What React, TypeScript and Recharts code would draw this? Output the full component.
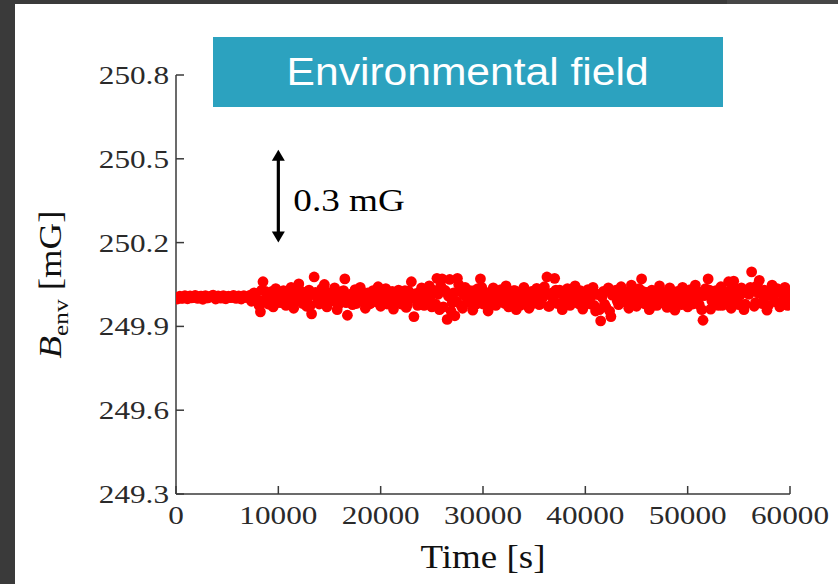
import React from 'react';
import { ScatterChart, Scatter, XAxis, YAxis, ReferenceLine } from 'recharts';

const TIMES = [
  0, 250, 500, 750, 1000, 1250, 1500, 1750, 2000, 2250, 2500, 2750, 3000, 3250, 3500, 3750, 4000, 4250, 4500, 4750,
  5000, 5250, 5500, 5750, 6000, 6250, 6500, 6750, 7000, 7250, 7500, 7750, 8000, 8250, 8500, 8750, 9000, 9250, 9500, 9750,
  10000, 10250, 10500, 10750, 11000, 11250, 11500, 11750, 12000, 12250, 12500, 12750, 13000, 13250, 13500, 13750, 14000, 14250, 14500, 14750,
  15000, 15250, 15500, 15750, 16000, 16250, 16500, 16750, 17000, 17250, 17500, 17750, 18000, 18250, 18500, 18750, 19000, 19250, 19500, 19750,
  20000, 20250, 20500, 20750, 21000, 21250, 21500, 21750, 22000, 22250, 22500, 22750, 23000, 23250, 23500, 23750, 24000, 24250, 24500, 24750,
  25000, 25250, 25500, 25750, 26000, 26250, 26500, 26750, 27000, 27250, 27500, 27750, 28000, 28250, 28500, 28750, 29000, 29250, 29500, 29750,
  30000, 30250, 30500, 30750, 31000, 31250, 31500, 31750, 32000, 32250, 32500, 32750, 33000, 33250, 33500, 33750, 34000, 34250, 34500, 34750,
  35000, 35250, 35500, 35750, 36000, 36250, 36500, 36750, 37000, 37250, 37500, 37750, 38000, 38250, 38500, 38750, 39000, 39250, 39500, 39750,
  40000, 40250, 40500, 40750, 41000, 41250, 41500, 41750, 42000, 42250, 42500, 42750, 43000, 43250, 43500, 43750, 44000, 44250, 44500, 44750,
  45000, 45250, 45500, 45750, 46000, 46250, 46500, 46750, 47000, 47250, 47500, 47750, 48000, 48250, 48500, 48750, 49000, 49250, 49500, 49750,
  50000, 50250, 50500, 50750, 51000, 51250, 51500, 51750, 52000, 52250, 52500, 52750, 53000, 53250, 53500, 53750, 54000, 54250, 54500, 54750,
  55000, 55250, 55500, 55750, 56000, 56250, 56500, 56750, 57000, 57250, 57500, 57750, 58000, 58250, 58500, 58750, 59000, 59250, 59500, 59750,
  60000,
];

const B_ENV = [
  250.002, 250.004, 250.001, 250.005, 250.003, 250.006, 250.002, 250.007, 250.004, 250.003, 250.008, 250.005, 250.002, 250.006, 250.009, 250.004, 250.003, 250.007, 250.005, 250.001,
  250.006, 250.004, 250.008, 250.003, 250.005, 250.002, 250.007, 250.004, 250.006, 250.012, 249.994, 250.018, 249.986, 249.952, 250.060, 250.025, 249.980, 250.010, 249.970, 250.035,
  250.005, 249.985, 250.028, 249.975, 250.015, 250.040, 249.965, 250.008, 250.052, 249.990, 250.022, 249.972, 250.030, 249.945, 250.077, 250.012, 249.980, 250.035, 250.050, 249.970,
  250.018, 249.992, 250.038, 249.960, 250.010, 250.025, 250.070, 249.940, 250.015, 249.978, 250.032, 249.988, 250.040, 250.005, 249.965, 250.020, 249.982, 250.028, 249.995, 250.042,
  249.972, 250.012, 250.035, 249.985, 250.022, 249.962, 250.008, 250.030, 249.980, 250.015, 249.968, 250.026, 250.060, 249.935, 250.018, 249.990, 250.038, 249.975, 250.010, 250.045,
  249.970, 250.020, 250.072, 249.960, 250.070, 250.030, 249.925, 250.068, 249.985, 249.938, 250.072, 250.025, 249.965, 250.040, 249.992, 250.028, 249.958, 250.015, 250.035, 250.070,
  249.980, 250.022, 249.955, 250.010, 250.038, 249.975, 250.018, 250.032, 249.988, 250.045, 249.970, 250.005, 250.028, 249.960, 250.020, 249.985, 250.040, 250.012, 249.965, 250.025,
  249.992, 250.036, 249.978, 250.015, 250.042, 250.077, 249.972, 250.020, 250.072, 249.982, 250.030, 249.960, 250.010, 250.035, 249.975, 250.018, 250.045, 249.988, 250.028, 249.962,
  250.008, 250.032, 249.980, 250.040, 249.955, 250.015, 249.920, 250.025, 249.970, 250.038, 249.935, 250.012, 250.030, 249.978, 250.042, 249.990, 250.020, 249.965, 250.048, 250.005,
  249.972, 250.035, 250.070, 249.982, 250.022, 249.960, 250.030, 250.010, 249.975, 250.045, 249.985, 250.018, 249.968, 250.038, 250.008, 249.958, 250.025, 249.988, 250.040, 250.015,
  249.970, 250.032, 249.980, 250.048, 249.992, 250.022, 249.922, 250.035, 250.070, 249.962, 250.012, 250.028, 249.975, 250.042, 249.985, 250.018, 250.060, 249.965, 250.062, 250.010,
  249.978, 250.038, 249.960, 250.025, 250.015, 250.095, 249.972, 250.045, 250.065, 249.982, 250.030, 249.958, 250.020, 250.048, 249.990, 250.035, 249.970, 250.022, 250.040, 249.975,
  250.005,
];

const TIMES_MID = [
  125, 375, 625, 875, 1125, 1375, 1625, 1875, 2125, 2375, 2625, 2875, 3125, 3375, 3625, 3875, 4125, 4375, 4625, 4875,
  5125, 5375, 5625, 5875, 6125, 6375, 6625, 6875, 7125, 7375, 7625, 7875, 8125, 8375, 8625, 8875, 9125, 9375, 9625, 9875,
  10125, 10375, 10625, 10875, 11125, 11375, 11625, 11875, 12125, 12375, 12625, 12875, 13125, 13375, 13625, 13875, 14125, 14375, 14625, 14875,
  15125, 15375, 15625, 15875, 16125, 16375, 16625, 16875, 17125, 17375, 17625, 17875, 18125, 18375, 18625, 18875, 19125, 19375, 19625, 19875,
  20125, 20375, 20625, 20875, 21125, 21375, 21625, 21875, 22125, 22375, 22625, 22875, 23125, 23375, 23625, 23875, 24125, 24375, 24625, 24875,
  25125, 25375, 25625, 25875, 26125, 26375, 26625, 26875, 27125, 27375, 27625, 27875, 28125, 28375, 28625, 28875, 29125, 29375, 29625, 29875,
  30125, 30375, 30625, 30875, 31125, 31375, 31625, 31875, 32125, 32375, 32625, 32875, 33125, 33375, 33625, 33875, 34125, 34375, 34625, 34875,
  35125, 35375, 35625, 35875, 36125, 36375, 36625, 36875, 37125, 37375, 37625, 37875, 38125, 38375, 38625, 38875, 39125, 39375, 39625, 39875,
  40125, 40375, 40625, 40875, 41125, 41375, 41625, 41875, 42125, 42375, 42625, 42875, 43125, 43375, 43625, 43875, 44125, 44375, 44625, 44875,
  45125, 45375, 45625, 45875, 46125, 46375, 46625, 46875, 47125, 47375, 47625, 47875, 48125, 48375, 48625, 48875, 49125, 49375, 49625, 49875,
  50125, 50375, 50625, 50875, 51125, 51375, 51625, 51875, 52125, 52375, 52625, 52875, 53125, 53375, 53625, 53875, 54125, 54375, 54625, 54875,
  55125, 55375, 55625, 55875, 56125, 56375, 56625, 56875, 57125, 57375, 57625, 57875, 58125, 58375, 58625, 58875, 59125, 59375, 59625, 59875,
];

const B_ENV_MID = [
  249.998, 250.008, 250.000, 250.010, 249.999, 250.009, 250.003, 250.011, 250.000, 250.008, 249.997, 250.010, 250.002, 250.007, 250.012, 249.998, 250.009, 250.001, 250.010, 249.999,
  250.008, 250.003, 250.011, 250.000, 250.009, 249.998, 250.010, 250.004, 250.005, 249.990, 250.020, 250.000, 249.975, 250.030, 249.995, 250.015, 249.980, 250.025, 250.010, 249.985,
  250.000, 250.020, 249.988, 250.008, 249.978, 250.018, 250.005, 249.992, 250.028, 249.982, 250.012, 250.002, 249.975, 250.015, 250.022, 249.995, 250.010, 249.985, 250.025, 250.000,
  249.990, 250.018, 250.005, 249.978, 250.012, 250.028, 249.985, 250.008, 249.995, 250.020, 249.982, 250.010, 250.025, 249.992, 250.015, 249.980, 250.005, 250.022, 249.988, 250.008,
  250.018, 249.995, 249.980, 250.012, 250.025, 249.985, 250.005, 250.020, 249.990, 250.028, 249.978, 250.010, 250.000, 250.015, 249.975, 250.022, 250.005, 249.988, 250.018, 249.992,
  250.030, 249.980, 250.015, 250.045, 249.970, 250.025, 250.008, 249.955, 250.020, 249.990, 250.050, 249.975, 250.012, 250.022, 249.985, 250.005, 250.028, 249.980, 250.010, 250.040,
  249.988, 250.015, 250.005, 249.978, 250.020, 249.992, 250.025, 250.010, 249.982, 250.022, 250.000, 249.985, 250.028, 250.012, 249.975, 250.015, 249.995, 250.020, 250.008, 249.982,
  250.010, 250.025, 249.985, 250.005, 250.020, 249.972, 250.012, 249.992, 250.030, 250.018, 249.978, 250.010, 249.995, 250.025, 249.988, 250.015, 250.005, 249.980, 250.022, 250.000,
  249.985, 250.020, 250.010, 249.975, 250.015, 249.960, 250.005, 249.980, 250.028, 249.955, 250.012, 250.022, 249.990, 250.018, 249.995, 250.025, 249.982, 250.012, 250.030, 249.988,
  250.015, 249.992, 250.025, 249.980, 250.010, 250.005, 249.975, 250.018, 249.988, 250.022, 250.000, 249.982, 250.028, 250.010, 249.985, 250.020, 250.005, 249.978, 250.015, 249.995,
  250.020, 249.985, 250.012, 250.025, 249.978, 249.960, 250.010, 250.018, 250.030, 249.990, 250.022, 249.995, 250.015, 249.975, 250.020, 250.008, 250.028, 249.988, 250.035, 249.982,
  250.012, 250.025, 249.980, 250.018, 250.040, 250.030, 249.985, 250.020, 250.028, 249.992, 250.015, 249.975, 250.010, 250.030, 249.988, 250.022, 249.982, 250.008, 250.025, 249.990,
];

const Y_TICKS = [249.3, 249.6, 249.9, 250.2, 250.5, 250.8];
const X_TICKS = [0, 10000, 20000, 30000, 40000, 50000, 60000];
const Y_DOMAIN = [249.3, 250.8];
const X_DOMAIN = [0, 60000];
const ARROW_SEGMENT = [{ x: 10000, y: 250.2 }, { x: 10000, y: 250.532 }];
const ARROW_LABEL = '0.3 mG';
const TITLE = 'Environmental field';

const data = [
  ...TIMES.map((t, i) => ({ t, v: B_ENV[i] })),
  ...TIMES_MID.map((t, i) => ({ t, v: B_ENV_MID[i] })),
];

const AXIS = '#3a3a3a';
const SERIF = '"Liberation Serif", "Times New Roman", serif';
const SANS = '"Liberation Sans", Arial, sans-serif';
const TICK_FILL = '#2a2a2a';

const LeftTick = (props: any) => {
  const { x, y, payload } = props;
  return (
    <g>
      <line x1={x} x2={x + 8} y1={y} y2={y} stroke={AXIS} strokeWidth={1.5} />
      <text
        transform={`translate(${x - 7},${y}) scale(1.2,1)`}
        textAnchor="end"
        dominantBaseline="central"
        fontFamily={SERIF}
        fontSize={26}
        fill={TICK_FILL}
      >
        {Number(payload.value).toFixed(1)}
      </text>
    </g>
  );
};

const RightTick = (props: any) => {
  const { x, y } = props;
  return <line x1={x} x2={x - 8} y1={y} y2={y} stroke={AXIS} strokeWidth={1.5} />;
};

const BottomTick = (props: any) => {
  const { x, y, payload } = props;
  return (
    <g>
      <line x1={x} x2={x} y1={y} y2={y - 8} stroke={AXIS} strokeWidth={1.5} />
      <text
        transform={`translate(${x},${y + 30}) scale(1.2,1)`}
        textAnchor="middle"
        fontFamily={SERIF}
        fontSize={26}
        fill={TICK_FILL}
      >
        {payload.value}
      </text>
    </g>
  );
};

const XLabel = (props: any) => {
  const { viewBox } = props;
  const cx = viewBox.x + viewBox.width / 2;
  return (
    <text
      transform={`translate(${cx},${viewBox.y + 74}) scale(1.12,1)`}
      textAnchor="middle"
      fontFamily={SERIF}
      fontSize={33}
      fill="#111"
    >
      Time [s]
    </text>
  );
};

const YLabel = (props: any) => {
  const { viewBox } = props;
  const cy = viewBox.y + viewBox.height / 2;
  return (
    <text
      transform={`translate(${viewBox.x + 61},${cy}) rotate(-90) scale(1.15,1)`}
      textAnchor="middle"
      fontFamily={SERIF}
      fontSize={32}
      fill="#111"
    >
      <tspan fontStyle="italic">B</tspan>
      <tspan fontSize={22} dy={7}>env</tspan>
      <tspan dy={-7}> [mG]</tspan>
    </text>
  );
};

const ArrowShape = (props: any) => {
  const { x1, y1, x2, y2 } = props;
  const top = Math.min(y1, y2);
  const bottom = Math.max(y1, y2);
  const x = x1;
  const head = 11;
  const hw = 6.5;
  return (
    <g>
      <line x1={x} x2={x2} y1={top + head - 1} y2={bottom - head + 1} stroke="#000" strokeWidth={3.2} />
      <polygon points={`${x},${top} ${x - hw},${top + head} ${x + hw},${top + head}`} fill="#000" />
      <polygon points={`${x},${bottom} ${x - hw},${bottom - head} ${x + hw},${bottom - head}`} fill="#000" />
      <text
        transform={`translate(${x + 15},${(top + bottom) / 2 + 4}) scale(1.2,1)`}
        dominantBaseline="central"
        fontFamily={SERIF}
        fontSize={31}
        fill="#000"
      >
        {ARROW_LABEL}
      </text>
    </g>
  );
};

const Dot = (props: any) => {
  const { cx, cy } = props;
  return <circle cx={cx} cy={cy} r={5.4} fill="#ff0000" />;
};

export default function App() {
  return (
    <div style={{ position: 'absolute', left: 0, top: 0, width: 838, height: 584, background: '#3a3a3a', overflow: 'hidden' }}>
      <div style={{ position: 'absolute', left: 727, top: 0, width: 111, height: 4, background: '#464646' }} />
      <div style={{ position: 'absolute', left: 15, top: 4, width: 823, height: 580, background: '#ffffff' }} />
      <div style={{ position: 'absolute', left: 0, top: 0 }}>
        <ScatterChart width={838} height={584} margin={{ top: 75, right: 48, bottom: 0, left: 0 }}>
          <XAxis
            xAxisId={0}
            type="number"
            dataKey="t"
            domain={X_DOMAIN}
            ticks={X_TICKS}
            allowDataOverflow
            height={90}
            tickSize={0}
            tickMargin={0}
            tickLine={false}
            axisLine={{ stroke: AXIS, strokeWidth: 1.5 }}
            tick={<BottomTick />}
            interval={0}
            label={{ content: <XLabel /> }}
          />
          <XAxis
            xAxisId="top"
            orientation="top"
            type="number"
            dataKey="t"
            domain={X_DOMAIN}
            ticks={X_TICKS}
            allowDataOverflow
            height={0}
            tick={false}
            tickLine={false}
            axisLine={{ stroke: AXIS, strokeWidth: 1.5 }}
          />
          <YAxis
            yAxisId={0}
            type="number"
            dataKey="v"
            domain={Y_DOMAIN}
            ticks={Y_TICKS}
            allowDataOverflow
            width={176}
            tickSize={0}
            tickMargin={0}
            tickLine={false}
            axisLine={{ stroke: AXIS, strokeWidth: 1.5 }}
            tick={<LeftTick />}
            interval={0}
            label={{ content: <YLabel /> }}
          />
          <YAxis
            yAxisId="right"
            orientation="right"
            type="number"
            dataKey="v"
            domain={Y_DOMAIN}
            ticks={Y_TICKS}
            allowDataOverflow
            width={0}
            tickSize={0}
            tickMargin={0}
            tickLine={false}
            axisLine={{ stroke: AXIS, strokeWidth: 1.5 }}
            tick={<RightTick />}
            interval={0}
          />
          <Scatter data={data} xAxisId={0} yAxisId={0} shape={<Dot />} isAnimationActive={false} />
          <ReferenceLine
            xAxisId={0}
            yAxisId={0}
            segment={ARROW_SEGMENT}
            shape={<ArrowShape />}
            ifOverflow="visible"
          />
        </ScatterChart>
      </div>
      <div
        style={{
          position: 'absolute',
          left: 213,
          top: 37,
          width: 510,
          height: 70,
          background: '#2ca2bf',
          color: '#ffffff',
          fontFamily: SANS,
          fontSize: 38,
          display: 'flex',
          alignItems: 'center',
          justifyContent: 'center',
        }}
      >
        <span style={{ display: 'inline-block', transform: 'scale(1.12,1)' }}>{TITLE}</span>
      </div>
    </div>
  );
}
